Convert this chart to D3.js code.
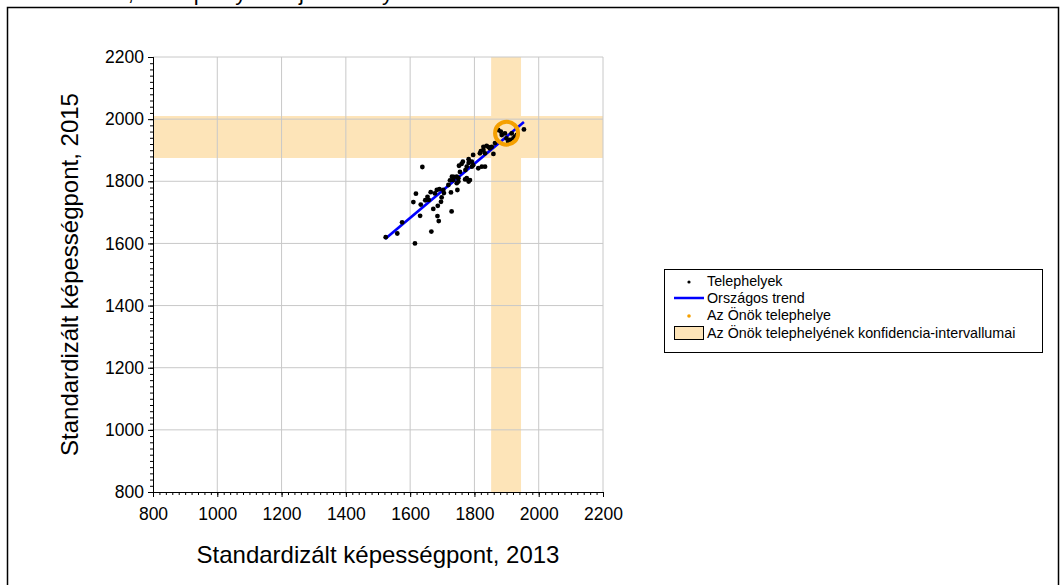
<!DOCTYPE html>
<html><head><meta charset="utf-8">
<script src="https://cdn.jsdelivr.net/npm/d3@7"></script>
<style>body{margin:0;background:#fff;}svg{display:block;font-family:"Liberation Sans",Arial,sans-serif;}</style>
</head><body><svg id="c" width="1063" height="585"></svg>
<script>
const title = "Matematika, a telephelyek teljesítménye";
const xTicks = [800,1000,1200,1400,1600,1800,2000,2200];
const yTicks = [800,1000,1200,1400,1600,1800,2000,2200];
const xLabel = "Standardizált képességpont, 2013";
const yLabel = "Standardizált képességpont, 2015";
const siteX = [1524,1560,1575,1615,1618,1610,1633,1631,1647,1654,1664,1658,1672,1666,1685,1689,1686,1691,1698,1705,1729,1696,1727,1638,1683,1677,1703,1719,1724,1730,1736,1745,1750,1747,1752,1755,1772,1760,1764,1776,1782,1771,1786,1782,1776,1782,1792,1796,1796,1792,1812,1823,1817,1820,1828,1833,1838,1844,1828,1848,1833,1859,1854,1874,1882,1885,1895,1916,1921,1911,1900,1926,1932,1954,1905,1864,1745,1734,1750];
const siteY = [1620,1632,1668,1600,1760,1733,1725,1689,1739,1750,1765,1740,1711,1638,1688,1672,1721,1775,1748,1762,1703,1734,1764,1846,1772,1761,1772,1788,1803,1815,1814,1794,1810,1772,1850,1830,1836,1856,1863,1847,1859,1806,1804,1799,1810,1871,1863,1852,1885,1847,1842,1847,1890,1897,1901,1847,1914,1910,1911,1906,1890,1888,1911,1965,1960,1949,1954,1954,1938,1933,1938,1944,1949,1967,1927,1923,1815,1804,1799];
const trendX = [1522,1954];
const trendY = [1614,1991];
const ownX = [1900];
const ownY = [1955];
const ciX = [1852,1945];
const ciY = [1875,2010];
const legendItems = ["Telephelyek","Országos trend","Az Önök telephelye","Az Önök telephelyének konfidencia-intervallumai"];

const svg = d3.select("#c");
const x = d3.scaleLinear().domain([800,2200]).range([153,603]);
const y = d3.scaleLinear().domain([800,2200]).range([492,57]);
const band = "#fde4b8";

// outer frame
svg.append("rect").attr("x",7.5).attr("y",7.5).attr("width",1051).attr("height",600)
  .attr("fill","none").attr("stroke","#000").attr("stroke-width",1.5);
// title (cut off at the top, as in the reference)
svg.append("text").attr("x",14).attr("y",0).attr("font-size",22).text(title);

// bands
svg.append("rect").attr("x",x(ciX[0])).attr("width",x(ciX[1])-x(ciX[0]))
  .attr("y",y(2200)).attr("height",y(800)-y(2200)).attr("fill",band);
svg.append("rect").attr("x",x(800)).attr("width",x(2200)-x(800))
  .attr("y",y(ciY[1])).attr("height",y(ciY[0])-y(ciY[1])).attr("fill",band);

// grid
const g = svg.append("g");
xTicks.slice(1).forEach(t=>g.append("line").attr("x1",x(t)).attr("x2",x(t)).attr("y1",y(800)).attr("y2",y(2200)).attr("stroke","#c8c8c8").attr("stroke-width",1));
yTicks.slice(1).forEach(t=>g.append("line").attr("y1",y(t)).attr("y2",y(t)).attr("x1",x(800)).attr("x2",x(2200)).attr("stroke","#c8c8c8").attr("stroke-width",1));

// axes
const minor = d3.range(800,2201,20);
const xa = svg.append("g").attr("transform",`translate(0,${y(800)})`)
  .call(d3.axisBottom(x).tickValues(minor).tickSize(3).tickFormat(""));
const xa2 = svg.append("g").attr("transform",`translate(0,${y(800)})`)
  .call(d3.axisBottom(x).tickValues(xTicks).tickSize(5).tickPadding(9).tickFormat(d3.format("d")));
const ya = svg.append("g").attr("transform",`translate(${x(800)},0)`)
  .call(d3.axisLeft(y).tickValues(minor).tickSize(3).tickFormat(""));
const ya2 = svg.append("g").attr("transform",`translate(${x(800)},0)`)
  .call(d3.axisLeft(y).tickValues(yTicks).tickSize(5).tickPadding(4).tickFormat(d3.format("d")));
[xa,xa2,ya,ya2].forEach(a=>{
  a.selectAll("text").attr("font-size",17.5).attr("font-family","Liberation Sans, Arial").attr("fill","#000");
  a.selectAll("line,path").attr("stroke","#000").attr("stroke-width",1);
});
xa2.selectAll("text").attr("dy","0.8em");

// trend
svg.append("line").attr("x1",x(trendX[0])).attr("y1",y(trendY[0])).attr("x2",x(trendX[1])).attr("y2",y(trendY[1]))
  .attr("stroke","#0000ff").attr("stroke-width",2.6);

// points
svg.append("g").selectAll("circle").data(siteX.map((v,i)=>[v,siteY[i]])).join("circle")
  .attr("cx",d=>x(d[0])).attr("cy",d=>y(d[1])).attr("r",2.4).attr("fill","#000");

// own site
svg.append("circle").attr("cx",x(ownX[0])).attr("cy",y(ownY[0])).attr("r",11.5)
  .attr("fill","none").attr("stroke","#f5a000").attr("stroke-width",4);

// axis labels
svg.append("text").attr("x",(x(800)+x(2200))/2).attr("y",563).attr("text-anchor","middle").attr("font-size",24).text(xLabel);
svg.append("text").attr("transform",`translate(78,${(y(800)+y(2200))/2}) rotate(-90)`).attr("text-anchor","middle").attr("font-size",24).text(yLabel);

// legend
const L = svg.append("g");
L.append("rect").attr("x",664.5).attr("y",269.5).attr("width",378).attr("height",83).attr("fill","#fff").attr("stroke","#000").attr("stroke-width",1);
const ly = [281,298,315,333];
legendItems.forEach((t,i)=>L.append("text").attr("x",707).attr("y",ly[i]+5).attr("font-size",14.3).text(t));
L.append("circle").attr("cx",689).attr("cy",ly[0]+1).attr("r",1.6).attr("fill","#000");
L.append("line").attr("x1",674).attr("x2",704).attr("y1",ly[1]).attr("y2",ly[1]).attr("stroke","#0000ff").attr("stroke-width",2.5);
L.append("circle").attr("cx",689).attr("cy",ly[2]+1).attr("r",1.8).attr("fill","#f5a000");
L.append("rect").attr("x",674.5).attr("y",ly[3]-6.5).attr("width",29).attr("height",13).attr("fill",band).attr("stroke","#000").attr("stroke-width",1);
</script></body></html>
